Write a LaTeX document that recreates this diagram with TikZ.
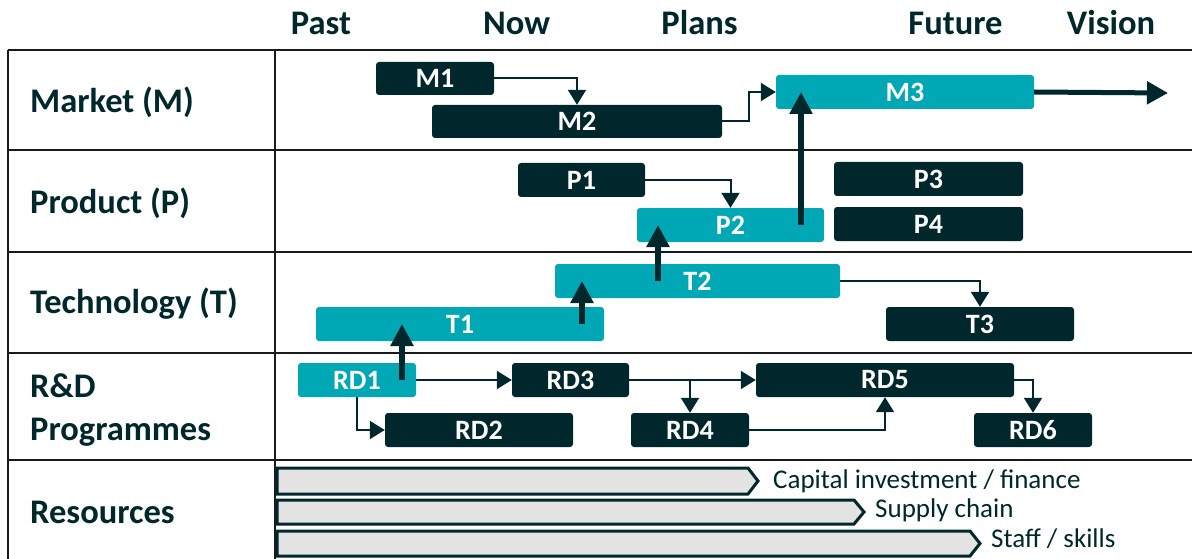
\documentclass[tikz,border=0pt]{standalone}
\usepackage{fontspec}
\setmainfont{Carlito}
\usetikzlibrary{arrows.meta,calc}
\definecolor{dk}{HTML}{00282C}
\definecolor{tl}{HTML}{00A7B5}
\definecolor{gridc}{HTML}{1A1A1A}
\definecolor{barfill}{HTML}{E3E3E3}
\begin{document}
\begin{tikzpicture}[x=1pt,y=-1pt,
  box/.style={draw=none,rounded corners=3pt,inner sep=0pt,text=white,
    font=\fontsize{28}{30}\selectfont\bfseries},
  dbox/.style={box,fill=dk},
  tbox/.style={box,fill=tl},
  gridl/.style={draw=gridc,line width=2.6pt},
  hdr/.style={text=dk,font=\fontsize{34.5}{38}\selectfont\bfseries,anchor=base,inner sep=0pt},
  rowl/.style={text=dk,font=\fontsize{34.5}{38}\selectfont\bfseries,anchor=base west,inner sep=0pt},
  resl/.style={text=dk,font=\fontsize{27}{30}\selectfont,anchor=base west,inner sep=0pt},
  thin/.style={draw=dk,line width=2pt,-{Triangle[width=18pt,length=15pt]}},
  thick/.style={draw=dk,line width=6pt,-{Triangle[width=22pt,length=22pt]}},
  bar/.style={draw=dk,fill=barfill,line width=3pt,line join=miter}
]
\useasboundingbox (0,0) rectangle (1192,559);
\fill[white] (0,0) rectangle (1192,559);

% grid
\foreach \yy in {50,150,252,353,460} \draw[gridl] (8,\yy) -- (1192,\yy);
\draw[gridl] (8,50) -- (8,559);
\draw[gridl] (275,50) -- (275,559);

% headers
\node[hdr] (hpast) at (321,35) {Past};
\node[hdr] (hnow) at (516.5,35) {Now};
\node[hdr] (hplans) at (699.5,35) {Plans};
\node[hdr] (hfut) at (955.5,35) {Future};
\node[hdr] (hvis) at (1111,35) {Vision};

% row labels
\node[rowl] (lm) at (30,113) {Market (M)};
\node[rowl] (lp) at (30,213) {Product (P)};
\node[rowl] (lt) at (30,313) {Technology (T)};
\node[rowl] (lr1) at (30,397) {R\&D};
\node[rowl] (lr2) at (30,440) {Programmes};
\node[rowl] (lres) at (30,523) {Resources};

% boxes
\node[dbox,minimum width=118pt,minimum height=33pt] (M1) at (435,78.5) {M1};
\node[dbox,minimum width=290pt,minimum height=33pt] (M2) at (577,121.5) {M2};
\node[tbox,minimum width=258pt,minimum height=34pt] (M3) at (905,92) {M3};

\node[dbox,minimum width=127pt,minimum height=34pt] (P1) at (581.5,180) {P1};
\node[tbox,minimum width=187pt,minimum height=34pt] (P2) at (730.5,225) {P2};
\node[dbox,minimum width=189pt,minimum height=34pt] (P3) at (928.5,179) {P3};
\node[dbox,minimum width=189pt,minimum height=34pt] (P4) at (928.5,224) {P4};

\node[tbox,minimum width=285pt,minimum height=34pt] (T2) at (697.5,281) {T2};
\node[tbox,minimum width=288pt,minimum height=34pt] (T1) at (460,324) {T1};
\node[dbox,minimum width=188pt,minimum height=34pt] (T3) at (980,324) {T3};

\node[tbox,minimum width=118pt,minimum height=34pt] (RD1) at (357,380) {RD1};
\node[dbox,minimum width=117pt,minimum height=34pt] (RD3) at (570.5,380) {RD3};
\node[dbox,minimum width=188pt,minimum height=34pt] (RD2) at (479,430) {RD2};
\node[dbox,minimum width=118pt,minimum height=34pt] (RD4) at (690,430) {RD4};
\node[dbox,minimum width=258pt,minimum height=34pt] (RD5) at (885,380) {RD5};
\node[dbox,minimum width=118pt,minimum height=34pt] (RD6) at (1033,430) {RD6};

% thin connectors
\draw[thin] (M1.east) -| (M2.north);
\draw[thin] (M2.east) -- ++(27,0) |- (M3.west);
\draw[thin] (P1.east) -| (P2.north);
\draw[thin] (T2.east) -| (T3.north);
\draw[thin] (RD1.east) -- (RD3.west);
\draw[thin] (RD1.south) |- (RD2.west);
\draw[thin] (RD3.east) -- (RD5.west);
\draw[thin] (RD3.east) -| (RD4.north);
\draw[thin] (RD4.east) -| (RD5.south);
\draw[thin] (RD5.east) -| (RD6.north);

% thick connectors
\coordinate (xa) at (402,0);
\coordinate (xb) at (582,0);
\coordinate (xc) at (658,0);
\coordinate (xd) at (801,0);
\coordinate (vis) at (1168,93);
\draw[thick] (xa |- RD1.center) -- (xa |- T1.center);
\draw[thick] (xb |- T1.center) -- (xb |- T2.center);
\draw[thick] (xc |- T2.center) -- (xc |- P2.center);
\draw[thick] (xd |- P2.center) -- (xd |- M3.center);
\draw[draw=dk,line width=5pt,-{Triangle[width=22pt,length=21pt]}] (M3.east) -- (vis);

% resources
\draw[bar] (277,468) -- (748,468) -- (758,481) -- (748,494) -- (277,494) -- cycle;
\draw[bar] (277,500) -- (854,500) -- (864,512) -- (854,524) -- (277,524) -- cycle;
\draw[bar] (277,531) -- (970,531) -- (980,543.5) -- (970,556) -- (277,556) -- cycle;
\node[resl] (r1) at (773,488) {Capital investment / finance};
\node[resl] (r2) at (875,517) {Supply chain};
\node[resl] (r3) at (991,547) {Staff / skills};
\end{tikzpicture}
\end{document}
